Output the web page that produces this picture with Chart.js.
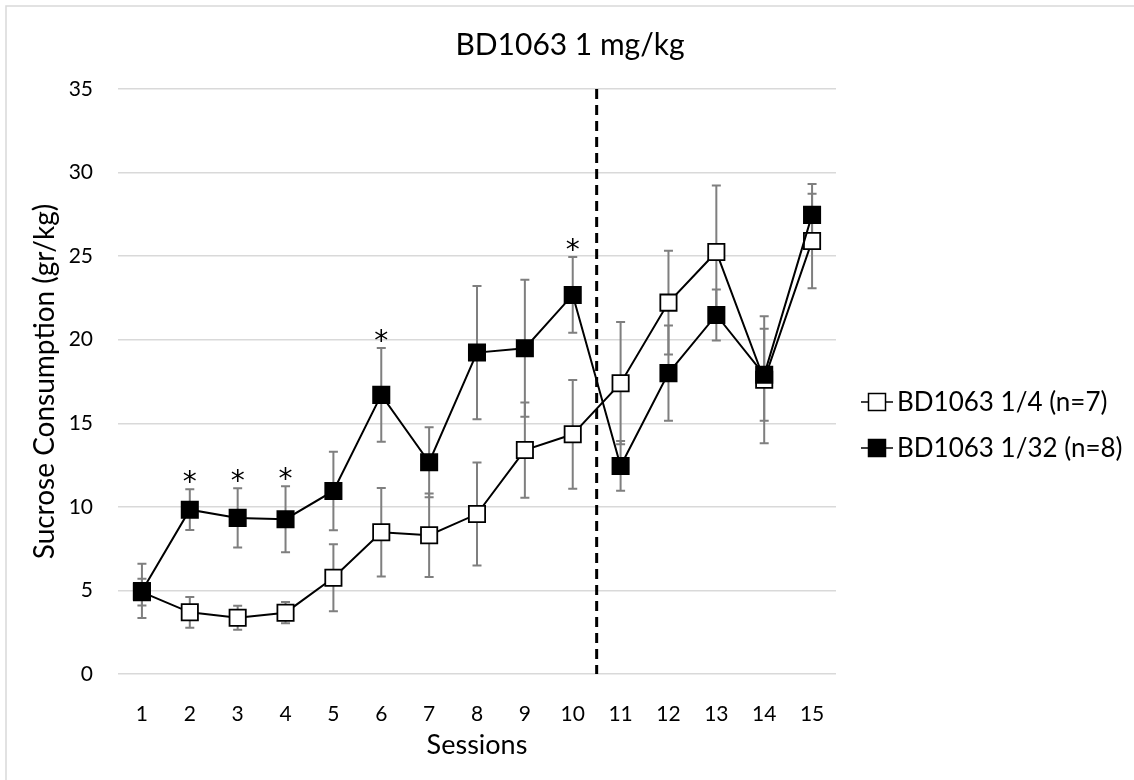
<!DOCTYPE html>
<html>
<head>
<meta charset="utf-8">
<script src="https://cdn.jsdelivr.net/npm/chart.js@4.4.1/dist/chart.umd.min.js"></script>
<style>
html,body{margin:0;padding:0;background:#fff;}
#wrap{width:1134px;height:780px;position:relative;}
</style>
</head>
<body>
<div id="wrap"><canvas id="c" width="1134" height="780"></canvas></div>
<script>
// ---- data ----
const chartTitle = 'BD1063 1 mg/kg';
const sessions = ['1','2','3','4','5','6','7','8','9','10','11','12','13','14','15'];
const seriesLabels = ['BD1063 1/4 (n=7)', 'BD1063 1/32 (n=8)'];
const quarterMean = [4.9, 3.69, 3.37, 3.67, 5.76, 8.48, 8.30, 9.57, 13.40, 14.34, 17.40, 22.22, 25.25, 17.60, 25.91];
const quarterErr  = [0.8, 0.92, 0.72, 0.64, 2.0, 2.65, 2.5, 3.08, 2.85, 3.25, 3.66, 3.1, 3.97, 3.8, 2.83];
const thirtySecondMean = [4.97, 9.83, 9.34, 9.26, 10.95, 16.7, 12.67, 19.23, 19.49, 22.68, 12.45, 18.0, 21.48, 17.9, 27.47];
const thirtySecondErr  = [1.62, 1.22, 1.77, 1.98, 2.35, 2.8, 2.1, 3.99, 4.1, 2.27, 1.49, 2.85, 1.52, 2.75, 1.85];
const significantSessions = ['2','3','4','6','10'];
const phaseBreakAfter = '10';
const yMin = 0, yMax = 35, yStep = 5;
const yTitle = 'Sucrose Consumption (gr/kg)';
const xTitle = 'Sessions';

// ---- styling ----
const FONT = 'Lato';
const GRID = '#d9d9d9';
const ERR = '#7f7f7f';

const decor = {
  id: 'decor',
  beforeDraw(chart) {
    const ctx = chart.ctx;
    ctx.save();
    ctx.fillStyle = '#fff';
    ctx.fillRect(0, 0, chart.width, chart.height);
    ctx.strokeStyle = GRID;
    ctx.lineWidth = 1.5;
    ctx.beginPath();
    ctx.moveTo(6, chart.height);
    ctx.lineTo(6, 6);
    ctx.lineTo(chart.width, 6);
    ctx.stroke();
    ctx.restore();
  },
  beforeDatasetsDraw(chart) {
    const ctx = chart.ctx;
    const xs = chart.scales.x, ys = chart.scales.y;
    // phase divider
    const i = sessions.indexOf(phaseBreakAfter);
    const xd = (xs.getPixelForValue(i) + xs.getPixelForValue(i + 1)) / 2;
    ctx.save();
    ctx.strokeStyle = '#000';
    ctx.lineWidth = 3;
    ctx.setLineDash([10, 6]);
    ctx.beginPath();
    ctx.moveTo(xd, ys.getPixelForValue(yMax));
    ctx.lineTo(xd, ys.getPixelForValue(yMin));
    ctx.stroke();
    ctx.setLineDash([]);
    // error bars
    ctx.strokeStyle = ERR;
    ctx.lineWidth = 2;
    chart.data.datasets.forEach((ds) => {
      ds.data.forEach((v, j) => {
        const e = ds.errors[j];
        const x = xs.getPixelForValue(j);
        const yh = ys.getPixelForValue(v + e);
        const yl = ys.getPixelForValue(v - e);
        ctx.beginPath();
        ctx.moveTo(x, yh); ctx.lineTo(x, yl);
        ctx.moveTo(x - 4.5, yh); ctx.lineTo(x + 4.5, yh);
        ctx.moveTo(x - 4.5, yl); ctx.lineTo(x + 4.5, yl);
        ctx.stroke();
      });
    });
    ctx.restore();
  },
  afterDatasetsDraw(chart) {
    const ctx = chart.ctx;
    const xs = chart.scales.x, ys = chart.scales.y;
    ctx.save();
    ctx.fillStyle = '#000';
    ctx.font = '28px "DejaVu Sans"';
    ctx.textAlign = 'center';
    ctx.textBaseline = 'alphabetic';
    const m = ctx.measureText('*');
    const half = (m.actualBoundingBoxAscent - m.actualBoundingBoxDescent) / 2;
    significantSessions.forEach((s) => {
      const j = sessions.indexOf(s);
      let top = Infinity;
      chart.data.datasets.forEach((ds) => {
        top = Math.min(top, ys.getPixelForValue(ds.data[j] + ds.errors[j]));
      });
      const cy = top - 12;
      ctx.fillText('*', xs.getPixelForValue(j), cy + half);
    });
    ctx.restore();
  },
  afterDraw(chart) {
    const ctx = chart.ctx;
    ctx.save();
    // title
    ctx.fillStyle = '#000';
    ctx.font = '30px ' + FONT;
    ctx.textAlign = 'center';
    ctx.textBaseline = 'middle';
    ctx.fillText(chartTitle, chart.width / 2 + 3, 45);
    // legend
    const rows = [402, 448];
    ctx.font = '26px ' + FONT;
    ctx.textAlign = 'left';
    chart.data.datasets.forEach((ds, k) => {
      const y = rows[k];
      ctx.strokeStyle = '#000';
      ctx.lineWidth = 1.5;
      ctx.beginPath();
      ctx.moveTo(861, y); ctx.lineTo(893, y);
      ctx.stroke();
      ctx.fillStyle = ds.pointBackgroundColor;
      ctx.fillRect(868.5, y - 8.5, 17, 17);
      ctx.strokeRect(868.5, y - 8.5, 17, 17);
      ctx.fillStyle = '#000';
      ctx.fillText(ds.label, 897, y + 1);
    });
    ctx.restore();
  }
};

const ctx = document.getElementById('c').getContext('2d');
new Chart(ctx, {
  type: 'line',
  data: {
    labels: sessions,
    datasets: [
      {
        label: seriesLabels[0],
        data: quarterMean,
        errors: quarterErr,
        borderColor: '#000',
        borderWidth: 2,
        pointStyle: 'rect',
        pointRadius: 11.5,
        pointHoverRadius: 11.5,
        pointBorderWidth: 1.8,
        pointBorderColor: '#000',
        pointBackgroundColor: '#ffffff',
        tension: 0,
        order: 1
      },
      {
        label: seriesLabels[1],
        data: thirtySecondMean,
        errors: thirtySecondErr,
        borderColor: '#000',
        borderWidth: 2,
        pointStyle: 'rect',
        pointRadius: 11.5,
        pointHoverRadius: 11.5,
        pointBorderWidth: 1.8,
        pointBorderColor: '#000',
        pointBackgroundColor: '#000000',
        tension: 0,
        order: 0
      }
    ]
  },
  options: {
    responsive: false,
    animation: false,
    events: [],
    layout: { padding: { top: 89, right: 298, bottom: 0, left: 0 } },
    plugins: { legend: { display: false }, title: { display: false }, tooltip: { enabled: false } },
    scales: {
      x: {
        offset: true,
        grid: { display: false, offset: true },
        border: { display: false },
        ticks: { color: '#000', font: { family: FONT, size: 21 }, padding: 20, maxRotation: 0 },
        title: { display: true, text: xTitle, color: '#000', font: { family: FONT, size: 27 }, padding: { top: 0, bottom: 19 } },
        afterFit(s) { s.height = 106; }
      },
      y: {
        min: yMin, max: yMax,
        ticks: { stepSize: yStep, color: '#000', font: { family: FONT, size: 21 }, padding: 25 },
        grid: { color: GRID, lineWidth: 1.5, drawTicks: false },
        border: { display: false },
        title: { display: true, text: yTitle, color: '#000', font: { family: FONT, size: 28 }, padding: { top: 28, bottom: 0 } },
        afterFit(s) { s.width = 118; }
      }
    }
  },
  plugins: [decor]
});
</script>
</body>
</html>
